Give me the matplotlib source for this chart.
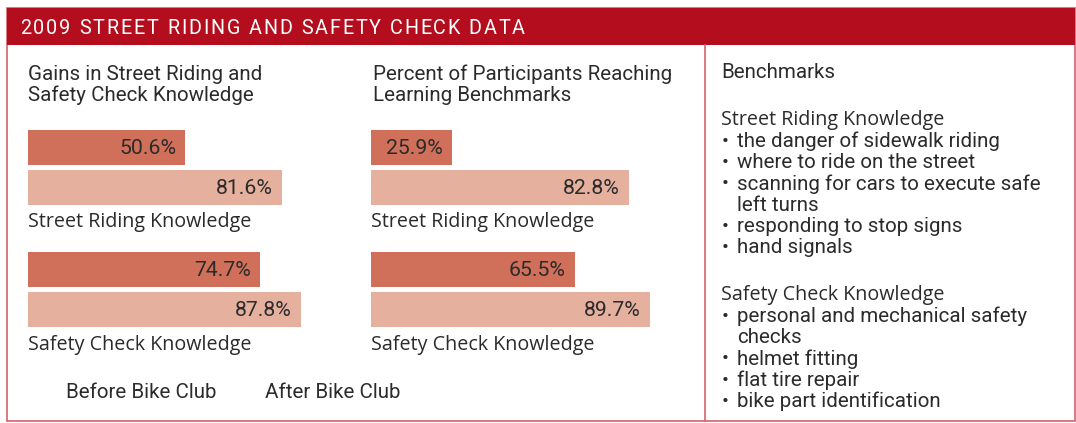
import matplotlib
matplotlib.use("Agg")
import matplotlib.pyplot as plt
from matplotlib.patches import Rectangle

# ---- data ----
title = "2009 STREET RIDING AND SAFETY CHECK DATA"
categories = ["Street Riding Knowledge", "Safety Check Knowledge"]
gains_before = [50.6, 74.7]
gains_after = [81.6, 87.8]
bench_before = [25.9, 65.5]
bench_after = [82.8, 89.7]
left_title = "Gains in Street Riding and\nSafety Check Knowledge"
mid_title = "Percent of Participants Reaching\nLearning Benchmarks"
legend_labels = ["Before Bike Club", "After Bike Club"]
bench_heading = "Benchmarks"
street_items = ["the danger of sidewalk riding", "where to ride on the street",
                "scanning for cars to execute safe\nleft turns", "responding to stop signs",
                "hand signals"]
safety_items = ["personal and mechanical safety\nchecks", "helmet fitting",
                "flat tire repair", "bike part identification"]

W, H = 1076, 423
fig = plt.figure(figsize=(W / 100, H / 100), dpi=100)

DARK = "#D0705A"
LIGHT = "#E6B09E"
RED = "#B30D1E"
BORDER = "#D4626C"
TXT = "#2b2b2b"
F_GROT = "Roboto"
F_HUM = "Open Sans"
FS = 14.8
FS_CAT = 14.2
FS_VAL = 15.3

def fx(px):
    return px / W

# background frame
bg = fig.add_axes([0, 0, 1, 1])
bg.set_xlim(0, W)
bg.set_ylim(H, 0)
bg.axis("off")
bg.add_patch(Rectangle((7, 8), 1068, 413, fill=False, ec=BORDER, lw=1.2))
bg.add_patch(Rectangle((7, 8), 1068, 37, fc=RED, ec="none"))
bg.plot([705, 705], [45, 421], color=BORDER, lw=1.2)

# header title with slight letter spacing to fit measured width
renderer = fig.canvas.get_renderer()
hdr_fs = 14.2
x_start, x_end = 20, 525
chars = []
widths = []
for ch in title:
    t = bg.text(0, 28, ch if ch != " " else "n", color="white", fontsize=hdr_fs,
                family=F_GROT, va="center", ha="left")
    w = t.get_window_extent(renderer).width
    if ch == " ":
        w *= 0.45
        t.remove()
        t = None
    chars.append(t)
    widths.append(w)
total = sum(widths)
gap = (x_end - x_start - total) / (len(title) - 1)
x = x_start
for t, w in zip(chars, widths):
    if t is not None:
        t.set_x(x)
    x += w + gap

bg.text(28, 85, left_title, color=TXT, fontsize=FS, family=F_GROT,
        va="center", ha="left", linespacing=1.15)
bg.text(373, 85, mid_title, color=TXT, fontsize=FS, family=F_GROT,
        va="center", ha="left", linespacing=1.15)

bg.text(66, 393, legend_labels[0], color=TXT, fontsize=FS, family=F_GROT, va="center")
bg.text(265, 393, legend_labels[1], color=TXT, fontsize=FS, family=F_GROT, va="center")

# benchmarks column
bg.text(721, 73, bench_heading, color=TXT, fontsize=FS, family=F_GROT, va="center")

def bullet_block(y0, heading, items):
    bg.text(721, y0, heading, color=TXT, fontsize=FS_CAT, family=F_HUM, va="center")
    y = y0 + 21.3
    for it in items:
        lines = it.split("\n")
        bg.text(722, y, "\u2022", color=TXT, fontsize=FS, family=F_GROT, va="center")
        for ln in lines:
            bg.text(737, y, ln, color=TXT, fontsize=FS, family=F_GROT, va="center")
            y += 21.3

bullet_block(120, "Street Riding Knowledge", street_items)
bullet_block(295, "Safety Check Knowledge", safety_items)

# bar charts
scale = 3.11  # px per percent
row_y = [(130, 170, 222), (252, 292, 345)]

def bar_chart(x0, before, after):
    ax = fig.add_axes([fx(x0), 0, fx(100 * scale), 1])
    ax.set_xlim(0, 100)
    ax.set_ylim(H, 0)
    ax.axis("off")
    for i, cat in enumerate(categories):
        yb, ya, yl = row_y[i]
        ax.barh(yb + 17.75, before[i], height=35.5, color=DARK, left=0)
        ax.barh(ya + 17.75, after[i], height=35.5, color=LIGHT, left=0)
        for v, yy in ((before[i], yb + 18), (after[i], ya + 18)):
            ax.text(v - 9 / scale, yy, f"{v:.1f}%", color=TXT, fontsize=FS_VAL,
                    family=F_GROT, ha="right", va="center")
        ax.text(0, yl, cat, color=TXT, fontsize=FS_CAT, family=F_HUM,
                ha="left", va="center")

bar_chart(28, gains_before, gains_after)
bar_chart(371, bench_before, bench_after)

fig.savefig("out.png", dpi=100)
